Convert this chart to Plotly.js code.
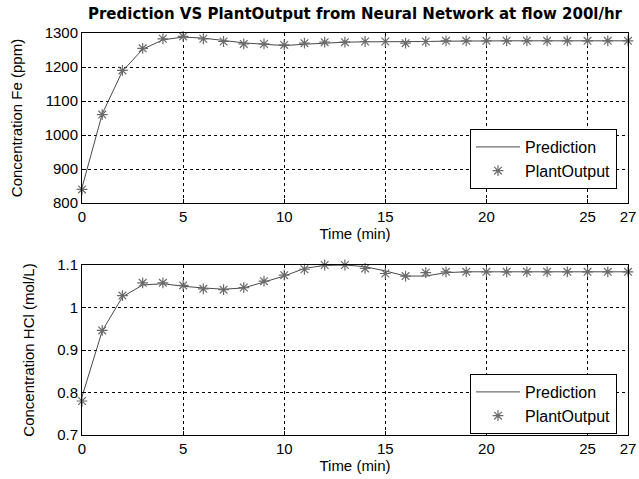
<!DOCTYPE html>
<html>
<head>
<meta charset="utf-8">
<script src="https://cdn.plot.ly/plotly-3.0.1.min.js"></script>
<style>html,body{margin:0;padding:0;background:#fff;}#chart{width:639px;height:479px;}</style>
</head>
<body>
<div id="chart"></div>
<script>
var time = [0,1,2,3,4,5,6,7,8,9,10,11,12,13,14,15,16,17,18,19,20,21,22,23,24,25,26,27];
var fePlantOutput = [840,1060,1190,1255,1283,1290,1283,1275,1268,1268,1265,1270,1273,1273,1275,1275,1270,1275,1277,1277,1277,1277,1277,1277,1277,1277,1277,1277];
var fePrediction  = [845,1062,1188,1252,1280,1288,1285,1278,1271,1267,1263,1267,1271,1273,1274,1274,1273,1275,1276,1277,1277,1277,1277,1277,1277,1277,1277,1277];
var hclPlantOutput = [0.78,0.946,1.028,1.058,1.058,1.052,1.044,1.042,1.047,1.062,1.076,1.090,1.100,1.100,1.092,1.080,1.074,1.082,1.084,1.084,1.084,1.084,1.084,1.084,1.084,1.084,1.084,1.084];
var hclPrediction  = [0.79,0.945,1.025,1.053,1.056,1.050,1.046,1.043,1.046,1.060,1.074,1.092,1.099,1.100,1.096,1.086,1.074,1.074,1.082,1.084,1.084,1.084,1.084,1.084,1.084,1.084,1.084,1.084];
var xTicks = [0,5,10,15,20,25,27];
var feTicks = [800,900,1000,1100,1200,1300];
var hclTicks = [0.7,0.8,0.9,1.0,1.1];
var hclTickText = ["0.7","0.8","0.9","1","1.1"];
var seriesNames = ["Prediction","PlantOutput"];

var lineStyle = {color:'#4a4a4a', width:1};
var markerStyle = {symbol:'asterisk-open', size:9, color:'#6a6a6a', line:{color:'#6a6a6a', width:1.2}};

var traces = [
  {x:time, y:fePrediction, mode:'lines', name:seriesNames[0], line:lineStyle, xaxis:'x', yaxis:'y', legend:'legend', cliponaxis:false},
  {x:time, y:fePlantOutput, mode:'markers', name:seriesNames[1], marker:markerStyle, xaxis:'x', yaxis:'y', legend:'legend', cliponaxis:false},
  {x:time, y:hclPrediction, mode:'lines', name:seriesNames[0], line:lineStyle, xaxis:'x2', yaxis:'y2', legend:'legend2', cliponaxis:false},
  {x:time, y:hclPlantOutput, mode:'markers', name:seriesNames[1], marker:markerStyle, xaxis:'x2', yaxis:'y2', legend:'legend2', cliponaxis:false}
];

var ff = '"Liberation Sans", Arial, sans-serif';
var font = {family:ff, size:15, color:'#000'};
var legFont = {family:ff, size:16, color:'#000'};
var L = 82/639, R = 628/639;
function xa(anchor){
  return {domain:[L, R], anchor:anchor, range:[0,27], tickvals:xTicks, ticktext:xTicks.map(String),
    showline:true, mirror:true, linecolor:'#000', linewidth:1, ticks:'inside', ticklen:4, tickcolor:'#000',
    showgrid:true, gridcolor:'#000', gridwidth:1, griddash:'3px,3px', zeroline:false,
    title:{text:'Time (min)', font:font, standoff:2}, tickfont:font};
}
function ya(anchor, dom, range, tv, tt, title){
  return {domain:dom, anchor:anchor, range:range, tickvals:tv, ticktext:tt,
    showline:true, mirror:true, linecolor:'#000', linewidth:1, ticks:'inside', ticklen:4, tickcolor:'#000',
    showgrid:true, gridcolor:'#000', gridwidth:1, griddash:'3px,3px', zeroline:false,
    title:{text:title, font:font, standoff:18}, tickfont:font};
}

var layout = {
  width:639, height:479, margin:{l:0,r:0,t:0,b:0}, paper_bgcolor:'#fff', plot_bgcolor:'#fff',
  font:font, showlegend:true,
  title:{text:'<b>Prediction VS PlantOutput from Neural Network at flow 200l/hr</b>', font:{family:'"DejaVu Sans", sans-serif', size:15, color:'#000'},
    x:(L+R)/2, xref:'paper', xanchor:'center', y:1-14/479, yref:'paper', yanchor:'middle'},
  xaxis: xa('y'),
  yaxis: ya('x', [(479-203)/479, (479-33)/479], [800,1300], feTicks, feTicks.map(String), 'Concentration Fe (ppm)'),
  xaxis2: xa('y2'),
  yaxis2: ya('x2', [(479-435)/479, (479-265)/479], [0.7,1.1], hclTicks, hclTickText, 'Concentration HCl (mol/L)'),
  legend:{x:617/639, xanchor:'right', y:1-189/479, yanchor:'bottom', bgcolor:'#fff', bordercolor:'#000', borderwidth:1, font:legFont, tracegroupgap:0, itemwidth:44},
  legend2:{x:617/639, xanchor:'right', y:1-434/479, yanchor:'bottom', bgcolor:'#fff', bordercolor:'#000', borderwidth:1, font:legFont, tracegroupgap:0, itemwidth:44}
};

Plotly.newPlot('chart', traces, layout, {displayModeBar:false, staticPlot:true});
</script>
</body>
</html>
